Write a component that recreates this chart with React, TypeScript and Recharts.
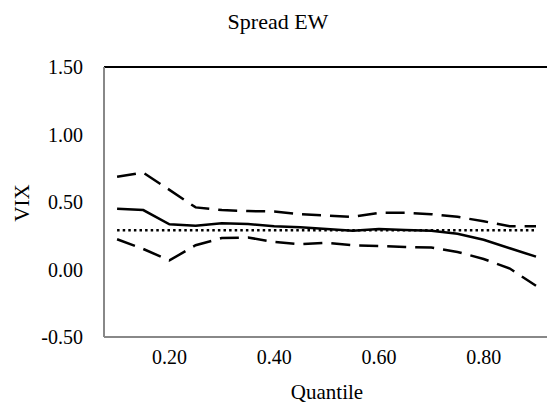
import React from "react"
import { LineChart, Line, XAxis, YAxis, ReferenceLine } from "recharts"

const quantiles = [0.1, 0.15, 0.2, 0.25, 0.3, 0.35, 0.4, 0.45, 0.5, 0.55, 0.6, 0.65, 0.7, 0.75, 0.8, 0.85, 0.9]
const estimate = [0.45, 0.44, 0.335, 0.325, 0.343, 0.337, 0.32, 0.313, 0.3, 0.287, 0.3, 0.293, 0.287, 0.265, 0.22, 0.157, 0.095]
const upperBand = [0.687, 0.717, 0.59, 0.46, 0.44, 0.433, 0.43, 0.41, 0.4, 0.39, 0.42, 0.42, 0.41, 0.39, 0.357, 0.32, 0.32]
const lowerBand = [0.224, 0.152, 0.067, 0.18, 0.233, 0.237, 0.204, 0.187, 0.198, 0.18, 0.174, 0.167, 0.163, 0.13, 0.078, 0.007, -0.12]
const ols = [0.29, 0.29, 0.29, 0.29, 0.29, 0.29, 0.29, 0.29, 0.29, 0.29, 0.29, 0.29, 0.29, 0.29, 0.29, 0.29, 0.29]

const xTicks = [0.2, 0.4, 0.6, 0.8]
const yTicks = [-0.5, 0, 0.5, 1, 1.5]

const data = quantiles.map((q, i) => ({
  q,
  estimate: estimate[i],
  upper: upperBand[i],
  lower: lowerBand[i],
  ols: ols[i],
}))

const font = "'Liberation Serif', 'Times New Roman', serif"
const tickStyle = { fontSize: 20, fill: "#000", fontFamily: font }

export default function App() {
  return (
    <div style={{ position: "absolute", left: 0, top: 0, width: 547, height: 411, fontFamily: font, color: "#000" }}>
      <LineChart width={547} height={411} data={data} margin={{ top: 67, right: 0, bottom: 44, left: 0 }}>
        <XAxis
          dataKey="q"
          type="number"
          domain={[0.075, 0.921]}
          ticks={xTicks}
          allowDataOverflow
          tickFormatter={(v: number) => v.toFixed(2)}
          tick={tickStyle}
          tickLine={false}
          tickSize={0}
          tickMargin={13}
          height={30}
          axisLine={{ stroke: "#888", strokeWidth: 2 }}
        />
        <YAxis
          type="number"
          domain={[-0.5, 1.5]}
          ticks={yTicks}
          tickFormatter={(v: number) => v.toFixed(2)}
          tick={tickStyle}
          tickLine={false}
          tickSize={0}
          tickMargin={21}
          width={104}
          axisLine={{ stroke: "#888", strokeWidth: 2 }}
        />
        <ReferenceLine y={1.5} stroke="#000" strokeWidth={2} />
        <Line dataKey="ols" stroke="#000" strokeWidth={2.5} strokeDasharray="2.5 3.1" dot={false} isAnimationActive={false} />
        <Line dataKey="upper" stroke="#000" strokeWidth={2.5} strokeDasharray="19 9" dot={false} isAnimationActive={false} />
        <Line dataKey="lower" stroke="#000" strokeWidth={2.5} strokeDasharray="19 9" dot={false} isAnimationActive={false} />
        <Line dataKey="estimate" stroke="#000" strokeWidth={2.5} dot={false} isAnimationActive={false} />
      </LineChart>
      <div style={{ position: "absolute", left: 178, top: 11, width: 200, textAlign: "center", fontSize: 22, lineHeight: "22px" }}>
        Spread EW
      </div>
      <div style={{ position: "absolute", left: 227, top: 382, width: 200, textAlign: "center", fontSize: 21, lineHeight: "21px" }}>
        Quantile
      </div>
      <div
        style={{
          position: "absolute",
          left: -8,
          top: 191,
          width: 60,
          height: 24,
          textAlign: "center",
          fontSize: 21,
          lineHeight: "24px",
          transform: "rotate(-90deg)",
        }}
      >
        VIX
      </div>
    </div>
  )
}
